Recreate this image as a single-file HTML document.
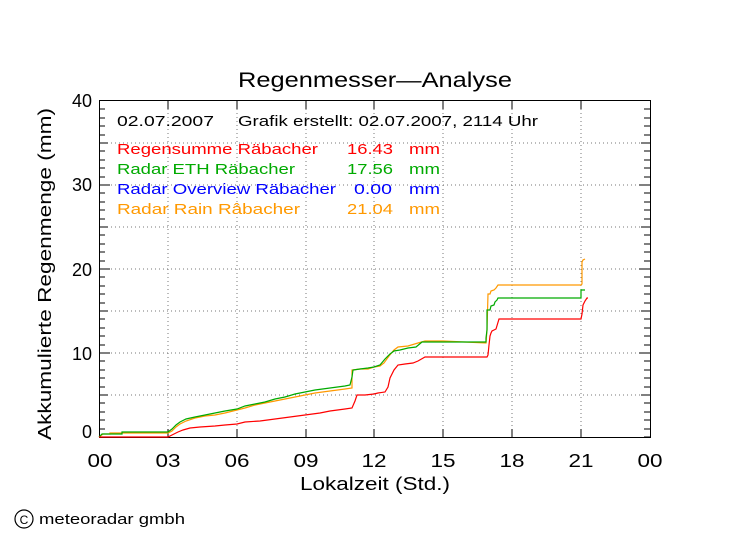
<!DOCTYPE html>
<html><head><meta charset="utf-8"><style>
body{margin:0;background:#fff;width:749px;height:539px;overflow:hidden}
text{font-family:"Liberation Sans",sans-serif}
</style></head><body>
<svg width="749" height="539" xmlns="http://www.w3.org/2000/svg">
<rect width="749" height="539" fill="#fff"/>
<g stroke="#777" stroke-width="1" stroke-dasharray="1,3" fill="none">
<path d="M168 101V437M237 101V437M306 101V437M374 101V437M443 101V437M512 101V437M581 101V437"/>
<path d="M99 395H650M99 353H650M99 311H650M99 269H650M99 227H650M99 185H650M99 143H650"/>
</g>
<g stroke="#000" stroke-width="1" fill="none">
<rect x="99.5" y="100.5" width="551" height="337"/>
<path id="ty" d="M99 437h6M99 429h6M99 420h6M99 412h6M99 403h6M99 395h9M99 387h6M99 378h6M99 370h6M99 361h6M99 353h11M99 345h6M99 336h6M99 328h6M99 319h6M99 311h9M99 303h6M99 294h6M99 286h6M99 277h6M99 269h11M99 261h6M99 252h6M99 244h6M99 235h6M99 227h9M99 219h6M99 210h6M99 202h6M99 193h6M99 185h11M99 177h6M99 168h6M99 160h6M99 151h6M99 143h9M99 135h6M99 126h6M99 118h6M99 109h6"/>
<use href="#ty" transform="translate(749,0) scale(-1,1)"/>
<path d="M168 437v-8M237 437v-8M306 437v-8M374 437v-8M443 437v-8M512 437v-8M581 437v-8M168 101v8M237 101v8M306 101v8M374 101v8M443 101v8M512 101v8M581 101v8"/>
</g>
<g fill="none" stroke-width="1.2">
<polyline stroke="#ff9900" points="99,437 103,434 110,434 110,433 168,433 172,431 176,427 180,424 186,421 195,418 205,416 215,415 225,413 237,410 245,408 255,405 270,402 285,399 300,396 315,393 330,391 345,389 352,388 352,370 360,369 368,369 374,367 380,366 384,363 389,356 394,350 398,347 408,346 418,343 425,341 443,341 486,343 487,330 488,294 490,294 491,291 494,290 496,288 498,285 581,285 582,284 582,262 583,260 585,259"/>
<polyline stroke="#00aa00" points="99,437 102,434 122,434 122,432 168,432 172,429 176,425 180,422 186,419 195,417 205,415 215,413 225,411 237,409 245,406 255,404 265,402 275,399 285,397 295,394 305,392 315,390 330,388 345,386 350,385 352,377 353,370 360,369 368,368 374,367 380,365 385,359 390,354 394,351 400,350 408,348 416,347 422,342 443,342 486,342 486,338 487,330 487,310 490,310 491,306 494,305 495,302 497,300 498,298 581,298 581,290 585,290"/>
<polyline stroke="#ff0000" points="99,437 168,437 172,435 178,432 183,430 190,428 200,427 215,426 225,425 237,424 245,422 260,421 275,419 290,417 305,415 320,413 330,411 345,409 352,408 355,401 357,395 365,395 374,394 378,393 385,392 388,387 390,378 394,370 398,365 405,364 413,363 418,361 425,357 443,357 487,357 488,355 489,345 490,336 491,333 492,331 494,330 496,329 499,319 581,319 582,314 583,305 584,303 585,301 587,298 588,298"/>
</g>
<g text-anchor="middle" fill="#000">
<text x="375" y="87" font-size="21" textLength="274" lengthAdjust="spacingAndGlyphs">Regenmesser—Analyse</text>
<text x="375" y="490" font-size="18" textLength="150" lengthAdjust="spacingAndGlyphs">Lokalzeit (Std.)</text>
</g>
<g font-size="18" text-anchor="middle">
<text x="100" y="467" textLength="25" lengthAdjust="spacingAndGlyphs">00</text><text x="168" y="467" textLength="25" lengthAdjust="spacingAndGlyphs">03</text><text x="237" y="467" textLength="25" lengthAdjust="spacingAndGlyphs">06</text><text x="306" y="467" textLength="25" lengthAdjust="spacingAndGlyphs">09</text><text x="374" y="467" textLength="25" lengthAdjust="spacingAndGlyphs">12</text><text x="443" y="467" textLength="25" lengthAdjust="spacingAndGlyphs">15</text><text x="512" y="467" textLength="25" lengthAdjust="spacingAndGlyphs">18</text><text x="581" y="467" textLength="25" lengthAdjust="spacingAndGlyphs">21</text><text x="650" y="467" textLength="25" lengthAdjust="spacingAndGlyphs">00</text>
</g>
<g font-size="18" text-anchor="end">
<text x="92" y="438">0</text><text x="92" y="360">10</text><text x="92" y="276">20</text><text x="92" y="191">30</text><text x="92" y="107">40</text>
</g>
<text transform="translate(51,274) rotate(-90)" font-size="18" text-anchor="middle" textLength="332" lengthAdjust="spacingAndGlyphs">Akkumulierte Regenmenge (mm)</text>
<g font-size="15">
<text x="117" y="126" textLength="97" lengthAdjust="spacingAndGlyphs">02.07.2007</text>
<text x="238" y="126" textLength="300" lengthAdjust="spacingAndGlyphs">Grafik erstellt: 02.07.2007, 2114 Uhr</text>
<text x="117" y="154" fill="#ff0000" textLength="201" lengthAdjust="spacingAndGlyphs">Regensumme Räbacher</text><text x="347" y="154" fill="#ff0000" textLength="46" lengthAdjust="spacingAndGlyphs">16.43</text><text x="409" y="154" fill="#ff0000" textLength="31" lengthAdjust="spacingAndGlyphs">mm</text>
<text x="117" y="174" fill="#00aa00" textLength="178" lengthAdjust="spacingAndGlyphs">Radar ETH Räbacher</text><text x="347" y="174" fill="#00aa00" textLength="46" lengthAdjust="spacingAndGlyphs">17.56</text><text x="409" y="174" fill="#00aa00" textLength="31" lengthAdjust="spacingAndGlyphs">mm</text>
<text x="117" y="194" fill="#0000ff" textLength="219" lengthAdjust="spacingAndGlyphs">Radar Overview Räbacher</text><text x="354" y="194" fill="#0000ff" textLength="38" lengthAdjust="spacingAndGlyphs">0.00</text><text x="409" y="194" fill="#0000ff" textLength="31" lengthAdjust="spacingAndGlyphs">mm</text>
<text x="117" y="214" fill="#ff9900" textLength="183" lengthAdjust="spacingAndGlyphs">Radar Rain Râbacher</text><text x="347" y="214" fill="#ff9900" textLength="46" lengthAdjust="spacingAndGlyphs">21.04</text><text x="409" y="214" fill="#ff9900" textLength="31" lengthAdjust="spacingAndGlyphs">mm</text>
</g>
<circle cx="24" cy="519" r="9" fill="none" stroke="#000" stroke-width="1.2"/>
<text x="24" y="524" font-size="12" text-anchor="middle">C</text>
<text x="39" y="524" font-size="15" textLength="146" lengthAdjust="spacingAndGlyphs">meteoradar gmbh</text>
</svg>
</body></html>
